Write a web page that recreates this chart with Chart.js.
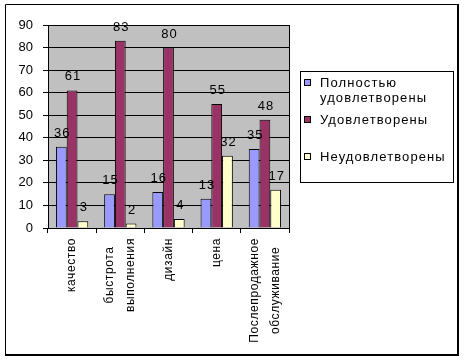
<!DOCTYPE html>
<html>
<head>
<meta charset="utf-8">
<title>Удовлетворённость клиентов</title>
<script src="https://cdn.jsdelivr.net/npm/chart.js"></script>
<style>
  html, body { margin: 0; padding: 0; background: #fff; }
  #wrap { position: relative; width: 464px; height: 360px; }
</style>
</head>
<body>
<div id="wrap"><canvas id="chart" width="464" height="360"></canvas></div>
<script>
const categories = ['качество', ['быстрота', 'выполнения'], 'дизайн', 'цена', ['Послепродажное', 'обслуживание']];
const seriesNames = [['Полностью', 'удовлетворены'], ['Удовлетворены'], ['Неудовлетворены']];
const fullySatisfied = [36, 15, 16, 13, 35];
const satisfied = [61, 83, 80, 55, 48];
const dissatisfied = [3, 2, 4, 32, 17];
const yMax = 90;
const yStep = 10;

const colors = ['#9999FF', '#993366', '#FFFFCC'];
const FONT = '"Liberation Sans", Arial, sans-serif';

// grey plot area + frame around the whole chart
const backdrop = {
  id: 'backdrop',
  beforeDraw(chart) {
    const { ctx, chartArea: a } = chart;
    ctx.save();
    ctx.fillStyle = '#C0C0C0';
    ctx.fillRect(a.left, a.top, a.right - a.left, a.bottom - a.top);
    ctx.restore();
  },
  afterDraw(chart) {
    const { ctx, chartArea: a } = chart;
    ctx.save();
    ctx.strokeStyle = '#000';
    ctx.lineWidth = 1;
    ctx.strokeRect(Math.round(a.left) + 0.5, Math.round(a.top) + 0.5,
      Math.round(a.right - a.left), Math.round(a.bottom - a.top));
    // outer frame, a bit heavier on right/bottom
    ctx.beginPath();
    ctx.moveTo(5.5, 356); ctx.lineTo(5.5, 4.5); ctx.lineTo(458, 4.5);
    ctx.stroke();
    ctx.lineWidth = 2;
    ctx.beginPath();
    ctx.moveTo(458, 4); ctx.lineTo(458, 355); ctx.lineTo(5, 355);
    ctx.stroke();
    ctx.restore();
  }
};

// category names, rotated, lines centred on each other like Excel does
const categoryLabels = {
  id: 'categoryLabels',
  afterDraw(chart) {
    const { ctx } = chart;
    const xs = chart.scales.x;
    const top = chart.chartArea.bottom + 10;
    const lineGap = 21;
    ctx.save();
    ctx.font = '12px ' + FONT;
    ctx.letterSpacing = '0.6px';
    ctx.fillStyle = '#000';
    ctx.textAlign = 'center';
    ctx.textBaseline = 'middle';
    categories.forEach((cat, i) => {
      const lines = Array.isArray(cat) ? cat : [cat];
      const longest = Math.max(...lines.map(l => ctx.measureText(l).width));
      const cx = xs.getPixelForTick(i);
      lines.forEach((line, k) => {
        ctx.save();
        ctx.translate(cx + (k - (lines.length - 1) / 2) * lineGap, top + longest / 2);
        ctx.rotate(-Math.PI / 2);
        ctx.fillText(line, 0, 0);
        ctx.restore();
      });
    });
    ctx.restore();
  }
};

// values above the bars
const valueLabels = {
  id: 'valueLabels',
  afterDatasetsDraw(chart) {
    const { ctx } = chart;
    ctx.save();
    ctx.font = '13px ' + FONT;
    ctx.letterSpacing = '1px';
    ctx.fillStyle = '#000';
    ctx.textAlign = 'center';
    ctx.textBaseline = 'bottom';
    chart.data.datasets.forEach((ds, i) => {
      chart.getDatasetMeta(i).data.forEach((bar, j) => {
        ctx.fillText(String(ds.data[j]), bar.x + 1, bar.y - 7);
      });
    });
    ctx.restore();
  }
};

// boxed legend at the right
const boxLegend = {
  id: 'boxLegend',
  afterDraw(chart) {
    const { ctx } = chart;
    const box = { x: 300.5, y: 71.5, w: 153, h: 111 };
    const slot = 37;
    const lineH = 15;
    ctx.save();
    ctx.strokeStyle = '#000';
    ctx.lineWidth = 1;
    ctx.fillStyle = '#fff';
    ctx.fillRect(box.x, box.y, box.w, box.h);
    ctx.strokeRect(box.x, box.y, box.w, box.h);
    ctx.font = '13px ' + FONT;
    ctx.letterSpacing = '1.1px';
    ctx.textAlign = 'left';
    ctx.textBaseline = 'middle';
    chart.data.datasets.forEach((ds, i) => {
      const y0 = box.y + 4 + i * slot + 7.5;
      ctx.fillStyle = ds.backgroundColor;
      ctx.fillRect(304, Math.round(y0 - 4), 7, 7);
      ctx.strokeRect(304.5, Math.round(y0 - 4) + 0.5, 6, 6);
      ctx.fillStyle = '#000';
      seriesNames[i].forEach((line, k) => ctx.fillText(line, 320, y0 + k * lineH));
    });
    ctx.restore();
  }
};

new Chart(document.getElementById('chart'), {
  type: 'bar',
  data: {
    labels: categories,
    datasets: [fullySatisfied, satisfied, dissatisfied].map((values, i) => ({
      label: seriesNames[i].join(' '),
      data: values,
      backgroundColor: colors[i],
      borderColor: '#000',
      borderWidth: 1,
      categoryPercentage: 0.67,
      barPercentage: 1
    }))
  },
  options: {
    responsive: false,
    animation: false,
    layout: { padding: { left: 0, top: 25, right: 175, bottom: 0 } },
    plugins: { legend: { display: false }, tooltip: { enabled: false } },
    scales: {
      x: {
        grid: { drawOnChartArea: false, drawTicks: true, tickLength: 5, color: '#000' },
        border: { color: '#000' },
        ticks: { display: false },
        afterFit(scale) { scale.height = 132; }
      },
      y: {
        min: 0, max: yMax,
        grid: { color: '#000', tickLength: 5 },
        border: { color: '#000' },
        ticks: { stepSize: yStep, color: '#000', font: { family: FONT, size: 13 }, padding: 10 },
        afterFit(scale) { scale.width = 48; }
      }
    }
  },
  plugins: [backdrop, categoryLabels, valueLabels, boxLegend]
});
</script>
</body>
</html>
